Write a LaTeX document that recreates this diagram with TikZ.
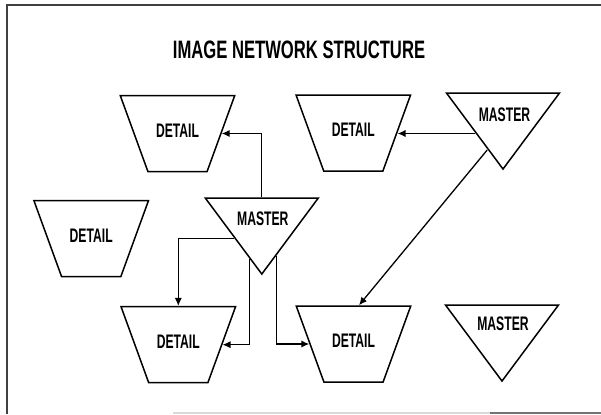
\documentclass[tikz,border=0pt]{standalone}
\usepackage{fontspec}
\usetikzlibrary{shapes.geometric,arrows.meta,calc}
\newfontfamily\lblfont{Liberation Sans Bold}[FakeStretch=0.62]
\newfontfamily\ttlfont{Liberation Sans Bold}[FakeStretch=0.66]

\begin{document}
\begin{tikzpicture}[x=0.5pt,y=-0.5pt,
  outline/.style={draw=black, line width=0.75pt},
  lbltext/.style={font=\lblfont\fontsize{9.8}{10}\selectfont},
  detail/.style={outline, lbltext, trapezium, shape border rotate=180,
    trapezium angle=70, trapezium stretches body,
    text height=7pt, text depth=3.5pt,
    inner xsep=0pt, inner ysep=13.75pt, minimum width=57.25pt},
  master/.style={outline, isosceles triangle, shape border rotate=-90,
    isosceles triangle stretches, minimum width=56.5pt, minimum height=38pt,
    inner sep=0pt},
  mastertext/.style={lbltext, inner sep=0pt},
  arr/.style={line width=0.65pt, -{Latex[length=4pt,width=3.6pt]}},
  frame/.style={line width=0.9pt},
]
\useasboundingbox (0,0) rectangle (601,414);

% page frame
\draw[frame, black!75] (7,414) -- (7,5) -- (601,5);
\draw[line width=0.9pt, black!15] (173,413) -- (490,413);
\draw[line width=0.9pt, black!55] (490,413) -- (601,413);

% title
\node[font=\ttlfont\fontsize{12.6}{14}\selectfont] (title) at (299,50)
  {IMAGE NETWORK STRUCTURE};

% detail records
\node[detail] (d1) at (177.5,133.5) {DETAIL};
\node[detail] (d2) at (353.3,133) {DETAIL};
\node[detail] (d3) at (91.2,238.7) {DETAIL};
\node[detail] (d4) at (178.3,344.7) {DETAIL};
\node[detail] (d5) at (353.5,344) {DETAIL};

% master records: triangle plus its caption near the wide top side
\node[master, anchor=apex] (m1) at (503,171) {};
\node[master, anchor=apex] (m2) at (261.8,276) {};
\node[master, anchor=apex] (m3) at (502,383) {};
\node[mastertext] (m1t) at ($(m1.apex)+(1.5,-56.5)$) {MASTER};
\node[mastertext] (m2t) at ($(m2.apex)+(1,-57)$) {MASTER};
\node[mastertext] (m3t) at ($(m3.apex)+(1,-59)$) {MASTER};

% points on the slanted sides of the master triangles
\coordinate (m1w) at ($(m1.apex)+(-28,-37.5)$);
\coordinate (m1d) at ($(m1.apex)+(-15.8,-21)$);
\coordinate (m2w) at ($(m2.apex)+(-27.7,-37.3)$);
\coordinate (m2l) at ($(m2.apex)+(-12.5,-16.8)$);
\coordinate (m2r) at ($(m2.apex)+(14.9,-20.1)$);
\coordinate (d5t) at ($(d5.north)+(5.5,0)$);

% links
\draw[arr] (m2.north) |- (d1.east);
\draw[arr] (m1w) -- (m1w -| d2.east);
\draw[arr] (m1d) -- (d5t);
\draw[arr] (m2w) -| (d4.north);
\draw[arr] (m2l) |- (d4.east);
\draw[arr] (m2r) |- (d5.west);
\end{tikzpicture}
\end{document}
